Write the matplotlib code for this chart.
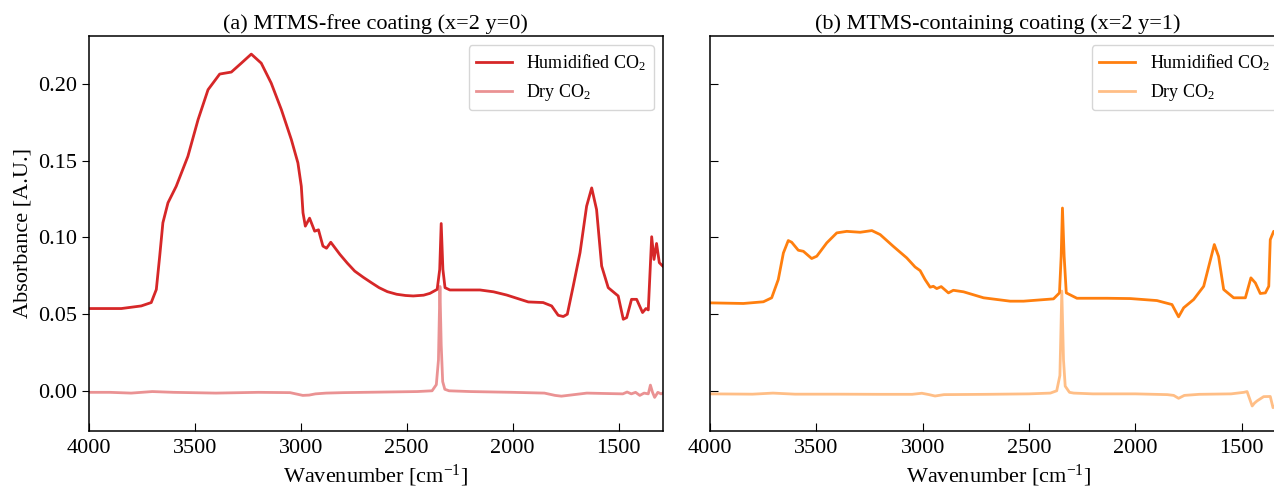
import matplotlib.pyplot as plt

plt.rcParams['font.family'] = ['Liberation Serif', 'DejaVu Serif']
plt.rcParams['mathtext.fontset'] = 'custom'
plt.rcParams['mathtext.rm'] = 'Liberation Serif'
plt.rcParams['mathtext.it'] = 'Liberation Serif:italic'

# (a) MTMS-free coating
wn_a_hum = [4000, 3846, 3752, 3705, 3681, 3665, 3650, 3626, 3587, 3532, 3484, 3437,
            3382, 3327, 3280, 3233, 3186, 3139, 3091, 3044, 3013, 2997, 2989, 2978,
            2958, 2934, 2916, 2895, 2878, 2858, 2815, 2780, 2745, 2705, 2667, 2630,
            2591, 2547, 2505, 2469, 2420, 2390, 2356, 2344, 2337, 2329, 2319, 2296,
            2154, 2090, 2028, 1926, 1856, 1816, 1785, 1761, 1742, 1714, 1682, 1651,
            1627, 1604, 1580, 1549, 1502, 1478, 1462, 1439, 1415, 1387, 1371, 1360,
            1344, 1333, 1321, 1308, 1292]
abs_a_hum = [0.0536, 0.0536, 0.0553, 0.0575, 0.066, 0.0878, 0.1095, 0.1225, 0.1333,
             0.1528, 0.1767, 0.1962, 0.2064, 0.2077, 0.2135, 0.2194, 0.2135, 0.2005,
             0.1832, 0.1637, 0.1485, 0.1333, 0.116, 0.1073, 0.1125, 0.104, 0.1049,
             0.0943, 0.0929, 0.0968, 0.0889, 0.0832, 0.078, 0.074, 0.0705, 0.0672,
             0.0646, 0.0629, 0.0621, 0.0618, 0.0623, 0.0635, 0.0661, 0.0791, 0.109,
             0.0791, 0.0672, 0.0657, 0.0657, 0.0645, 0.0624, 0.0579, 0.0575, 0.0553,
             0.0492, 0.0484, 0.0499, 0.0683, 0.09, 0.1203, 0.1322, 0.1181, 0.0813,
             0.0672, 0.0618, 0.0466, 0.0477, 0.0596, 0.0596, 0.051, 0.0536, 0.0527,
             0.1004, 0.0856, 0.096, 0.0835, 0.0813]

wn_a_dry = [4000, 3900, 3800, 3700, 3600, 3400, 3200, 3050, 2990, 2960, 2930, 2880,
            2800, 2600, 2450, 2380, 2360, 2350, 2343, 2337, 2330, 2320, 2300, 2200,
            2000, 1850, 1800, 1770, 1740, 1650, 1550, 1480, 1460, 1440, 1420, 1400,
            1380, 1360, 1350, 1340, 1330, 1315, 1300, 1292]
abs_a_dry = [-0.001, -0.001, -0.0015, -0.0005, -0.001, -0.0015, -0.001, -0.0012,
             -0.003, -0.0028, -0.002, -0.0015, -0.0012, -0.0008, -0.0005, 0.0, 0.004,
             0.02, 0.068, 0.03, 0.006, 0.001, 0.0, -0.0005, -0.001, -0.0015, -0.003,
             -0.0035, -0.003, -0.0015, -0.0018, -0.002, -0.0008, -0.002, -0.001, -0.003,
             -0.0015, -0.002, 0.0037, -0.001, -0.0043, -0.001, -0.002, -0.0015]

# (b) MTMS-containing coating
wn_b_hum = [4000, 3843, 3749, 3710, 3679, 3655, 3632, 3616, 3585, 3561, 3522, 3498,
            3451, 3404, 3357, 3294, 3239, 3200, 3138, 3075, 3036, 3012, 2989, 2965,
            2950, 2934, 2913, 2879, 2856, 2808, 2714, 2589, 2526, 2385, 2357, 2349,
            2343, 2335, 2325, 2275, 2134, 2024, 1899, 1828, 1797, 1773, 1726, 1679,
            1629, 1609, 1585, 1538, 1483, 1457, 1436, 1413, 1389, 1373, 1366, 1350,
            1330]
abs_b_hum = [0.0573, 0.0569, 0.058, 0.0606, 0.0725, 0.0898, 0.0979, 0.0968, 0.0916,
             0.0909, 0.0862, 0.0877, 0.0964, 0.1029, 0.1039, 0.1033, 0.1044, 0.1018,
             0.0941, 0.0866, 0.0807, 0.0783, 0.0725, 0.0675, 0.0681, 0.0666, 0.0679,
             0.0638, 0.0655, 0.0645, 0.0606, 0.0584, 0.0584, 0.0599, 0.0638, 0.0876,
             0.1191, 0.0876, 0.0638, 0.0603, 0.0603, 0.0601, 0.0588, 0.0562, 0.0482,
             0.0541, 0.0595, 0.0681, 0.0953, 0.0876, 0.066, 0.0606, 0.0606, 0.0736,
             0.0703, 0.0634, 0.0638, 0.0681, 0.0985, 0.1039, 0.104]

wn_b_dry = [4000, 3800, 3704, 3600, 3400, 3200, 3050, 3004, 2970, 2942, 2900, 2700,
            2500, 2400, 2370, 2355, 2346, 2338, 2330, 2310, 2290, 2200, 2000, 1850,
            1820, 1797, 1770, 1700, 1550, 1490, 1475, 1451, 1440, 1428, 1397, 1366,
            1353, 1330]
abs_b_dry = [-0.002, -0.0022, -0.0015, -0.0022, -0.0022, -0.0023, -0.0023, -0.0016,
             -0.0025, -0.0034, -0.0025, -0.0023, -0.002, -0.0015, 0.0, 0.01, 0.065,
             0.02, 0.003, -0.001, -0.0015, -0.002, -0.002, -0.0025, -0.003, -0.0049,
             -0.003, -0.0023, -0.002, -0.001, -0.0005, -0.0099, -0.008, -0.0066,
             -0.0038, -0.0037, -0.011, -0.008]

W, H = 1274, 488
fig = plt.figure(figsize=(W / 100, H / 100), dpi=100)
ax1 = fig.add_axes([88.7 / W, (H - 431) / H, 574 / W, 395 / H])
ax2 = fig.add_axes([710 / W, (H - 431) / H, 576 / W, 395 / H], sharey=ax1)

panels = [
    (ax1, wn_a_hum, abs_a_hum, wn_a_dry, abs_a_dry, 'tab:red',
     '(a) MTMS-free coating (x=2 y=0)'),
    (ax2, wn_b_hum, abs_b_hum, wn_b_dry, abs_b_dry, 'tab:orange',
     '(b) MTMS-containing coating (x=2 y=1)'),
]

for ax, wh, ah, wd, ad, col, title in panels:
    ax.plot(wh, ah, color=col, lw=2, label='Humidified CO$_2$')
    ax.plot(wd, ad, color=col, lw=2, alpha=0.5, label='Dry CO$_2$')
    ax.set_xlim(4000, 1292)
    ax.set_title(title, fontsize=16, pad=5)
    ax.set_xlabel('Wavenumber [cm$^{-1}$]', fontsize=16, labelpad=3)
    ax.set_xticks([4000, 3500, 3000, 2500, 2000, 1500])
    ax.tick_params(axis='x', direction='in', length=6, labelsize=16, pad=6)
    ax.legend(loc='upper right', fontsize=13)
    for s in ax.spines.values():
        s.set_linewidth(1.1)

ax1.set_ylim(-0.0262, 0.2312)
ax1.set_yticks([0.0, 0.05, 0.10, 0.15, 0.20])
ax1.set_ylabel('Absorbance [A.U.]', fontsize=16)
ax1.tick_params(axis='y', direction='out', length=5, labelsize=16)
ax2.tick_params(axis='y', direction='in', length=6, labelleft=False)

fig.savefig('out.png', dpi=100)
